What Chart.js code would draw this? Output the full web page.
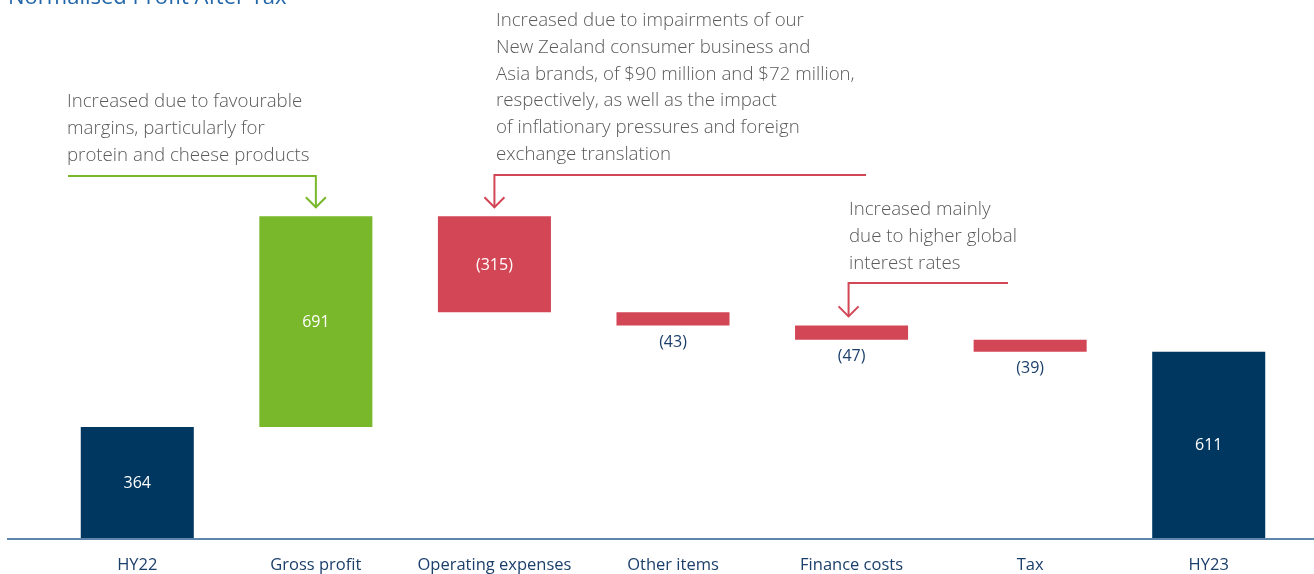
<!DOCTYPE html>
<html>
<head>
<meta charset="utf-8">
<script src="https://cdn.jsdelivr.net/npm/chart.js@4.4.0/dist/chart.umd.min.js"></script>
<style>
  html, body { margin: 0; padding: 0; background: #fff; }
  #wrap { position: relative; width: 1314px; height: 574px; }
</style>
</head>
<body>
<div id="wrap"><canvas id="myChart" width="1314" height="574"></canvas></div>
<script>
// waterfall data (NZ$ million)
var categories = ['HY22', 'Gross profit', 'Operating expenses', 'Other items', 'Finance costs', 'Tax', 'HY23'];
var values = [364, 691, -315, -43, -47, -39, 611];
var isTotal = [true, false, false, false, false, false, true];

var navy = '#003761';
var green = '#78b82a';
var red = '#d34655';
var textNavy = '#1b3f6b';
var noteGrey = '#5a5a5a';

var notes = [
    { bar: 1, color: green, x: 67, y: 102, lineY: 176, lineFrom: 68,
      lines: ['Increased due to favourable', 'margins, particularly for', 'protein and cheese products'] },
    { bar: 2, color: red, x: 496, y: 21, lineY: 175, lineFrom: 866,
      lines: ['Increased due to impairments of our', 'New Zealand consumer business and',
              'Asia brands, of $90 million and $72 million,', 'respectively, as well as the impact',
              'of inflationary pressures and foreign', 'exchange translation'] },
    { bar: 4, color: red, x: 849, y: 210, lineY: 283, lineFrom: 1008, shift: -3,
      lines: ['Increased mainly', 'due to higher global', 'interest rates'] }
];

// build floating bars from running total
var ranges = [];
var colors = [];
var run = 0;
for (var i = 0; i < values.length; i++) {
    if (isTotal[i]) {
        ranges.push([0, values[i]]);
        run = values[i];
        colors.push(navy);
    } else {
        ranges.push([run, run + values[i]]);
        run = run + values[i];
        colors.push(values[i] >= 0 ? green : red);
    }
}

function fmt(v) {
    return v < 0 ? '(' + Math.abs(v) + ')' : String(v);
}

var extras = {
    id: 'extras',
    afterDatasetsDraw: function(chart) {
        var ctx = chart.ctx;
        var meta = chart.getDatasetMeta(0);
        ctx.save();

        // title (cut off at top)
        ctx.fillStyle = '#2266aa';
        ctx.font = '22px "Open Sans"';
        ctx.textAlign = 'left';
        ctx.textBaseline = 'alphabetic';
        ctx.fillText('Normalised Profit After Tax', 8, 4);

        // axis line
        var yb = chart.scales.y.getPixelForValue(0);
        ctx.strokeStyle = '#5e86ad';
        ctx.lineWidth = 2;
        ctx.beginPath();
        ctx.moveTo(7, yb + 1);
        ctx.lineTo(chart.width, yb + 1);
        ctx.stroke();

        // value labels
        ctx.font = '16px "Open Sans"';
        ctx.textAlign = 'center';
        ctx.textBaseline = 'middle';
        meta.data.forEach(function(bar, i) {
            var top = Math.min(bar.y, bar.base);
            var bottom = Math.max(bar.y, bar.base);
            if (bottom - top > 40) {
                ctx.fillStyle = '#ffffff';
                ctx.fillText(fmt(values[i]), bar.x, (top + bottom) / 2 + 1);
            } else {
                ctx.fillStyle = textNavy;
                ctx.fillText(fmt(values[i]), bar.x, bottom + 17);
            }
        });

        // annotations
        notes.forEach(function(n) {
            ctx.fillStyle = noteGrey;
            ctx.font = '300 18.7px "Open Sans"';
            ctx.textAlign = 'left';
            ctx.textBaseline = 'middle';
            n.lines.forEach(function(t, k) {
                ctx.fillText(t, n.x, n.y + k * 26.7);
            });
            var bar = meta.data[n.bar];
            var ax = bar.x + (n.shift || 0);
            var tip = Math.min(bar.y, bar.base) - 9;
            ctx.strokeStyle = n.color;
            ctx.lineWidth = 2;
            ctx.beginPath();
            ctx.moveTo(n.lineFrom, n.lineY);
            ctx.lineTo(ax, n.lineY);
            ctx.lineTo(ax, tip);
            ctx.stroke();
            ctx.beginPath();
            ctx.moveTo(ax - 10, tip - 10);
            ctx.lineTo(ax, tip);
            ctx.lineTo(ax + 10, tip - 10);
            ctx.stroke();
        });
        ctx.restore();
    }
};

const ctx = document.getElementById('myChart').getContext('2d');
const myChart = new Chart(ctx, {
    type: 'bar',
    data: {
        labels: categories,
        datasets: [{
            data: ranges,
            backgroundColor: colors,
            borderWidth: 0,
            barPercentage: 0.633,
            categoryPercentage: 1
        }]
    },
    options: {
        responsive: false,
        animation: false,
        layout: { padding: { left: 48, right: 16, top: 50, bottom: 0 } },
        plugins: {
            legend: { display: false },
            tooltip: { enabled: false }
        },
        scales: {
            x: {
                grid: { display: false, drawTicks: false },
                border: { display: false },
                ticks: {
                    color: textNavy,
                    font: { family: '"Open Sans"', size: 16.5 },
                    padding: 17,
                    maxRotation: 0,
                    autoSkip: false
                },
                afterFit: function(scale) { scale.height = 36; }
            },
            y: {
                display: false,
                min: 0,
                max: 1600
            }
        }
    },
    plugins: [extras]
});
</script>
</body>
</html>
